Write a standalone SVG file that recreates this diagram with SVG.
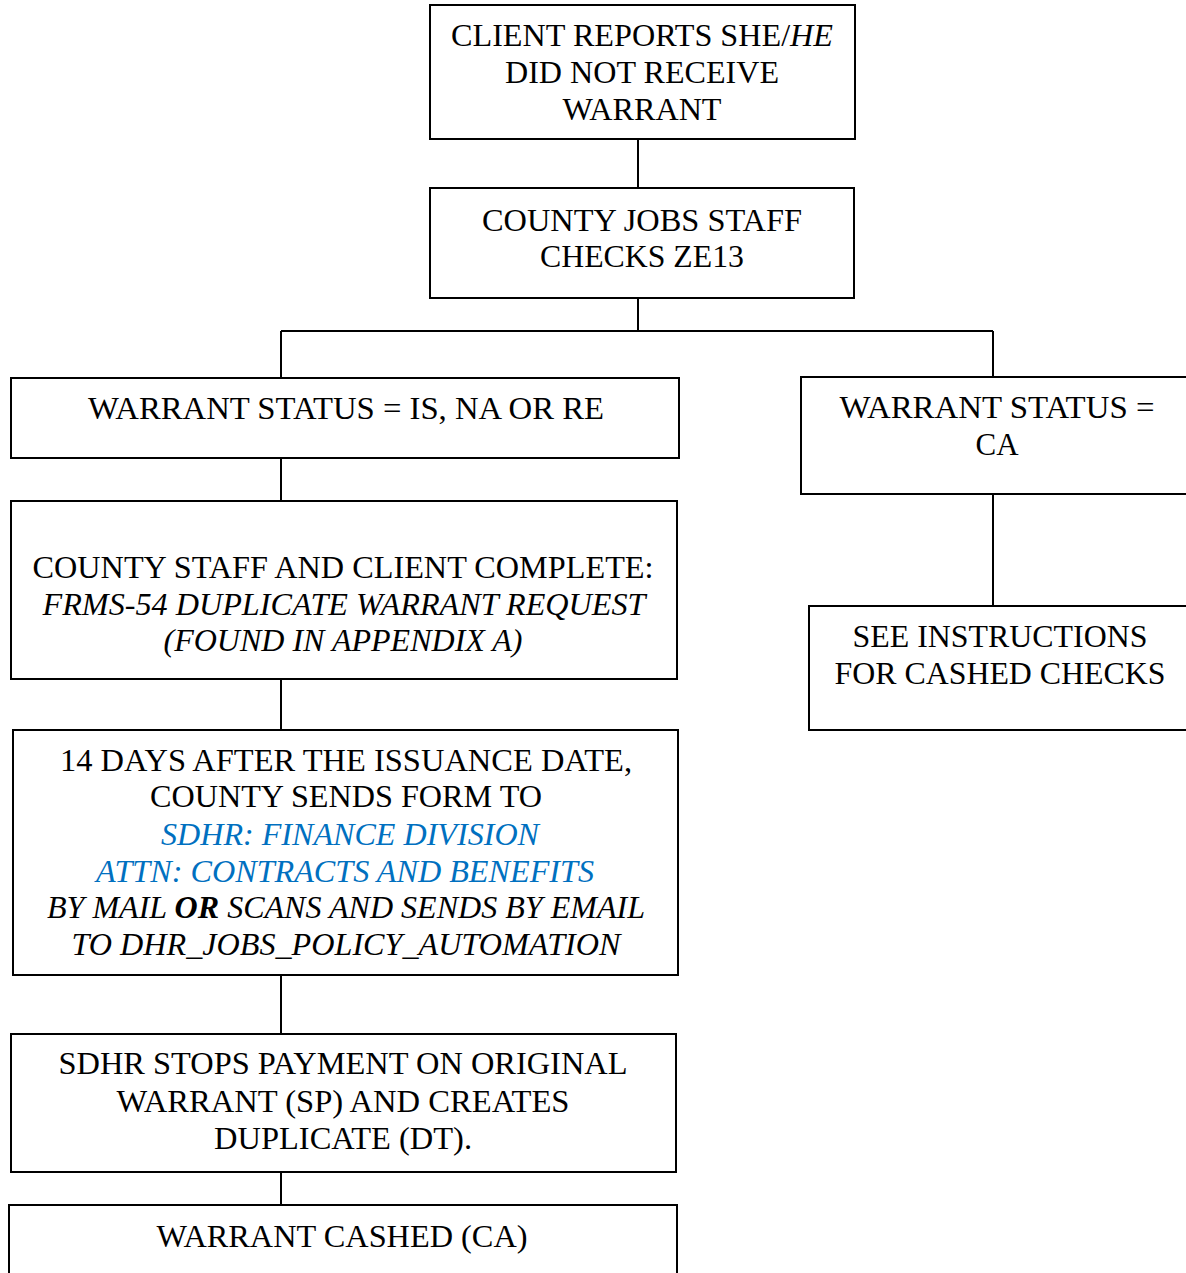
<svg xmlns="http://www.w3.org/2000/svg" width="1186" height="1273" viewBox="0 0 1186 1273">
<style>
.box{fill:#fff;stroke:#000;stroke-width:2}
.ln{stroke:#000;stroke-width:2;fill:none}
</style>
<rect width="1186" height="1273" fill="#fff"/>
<g id="connectors">
<line class="ln" x1="638" y1="139" x2="638" y2="188"/>
<line class="ln" x1="638" y1="298" x2="638" y2="331"/>
<line class="ln" x1="281" y1="331" x2="993" y2="331"/>
<line class="ln" x1="281" y1="331" x2="281" y2="378"/>
<line class="ln" x1="993" y1="331" x2="993" y2="377"/>
<line class="ln" x1="993" y1="494" x2="993" y2="606"/>
<line class="ln" x1="281" y1="458" x2="281" y2="501"/>
<line class="ln" x1="281" y1="679" x2="281" y2="730"/>
<line class="ln" x1="281" y1="975" x2="281" y2="1034"/>
<line class="ln" x1="281" y1="1172" x2="281" y2="1205"/>
</g>
<g id="nodes" font-family="Liberation Serif, serif" font-size="32" text-anchor="middle" fill="#000">
<g id="n1">
<rect class="box" x="430" y="5" width="425" height="134"/>
<text x="642" y="46" textLength="382" lengthAdjust="spacingAndGlyphs">CLIENT REPORTS SHE/<tspan font-style="italic">HE</tspan></text>
<text x="642" y="83" textLength="274" lengthAdjust="spacingAndGlyphs">DID NOT RECEIVE</text>
<text x="642" y="120" textLength="159" lengthAdjust="spacingAndGlyphs">WARRANT</text>
</g>
<g id="n2">
<rect class="box" x="430" y="188" width="424" height="110"/>
<text x="642" y="231" textLength="320" lengthAdjust="spacingAndGlyphs">COUNTY JOBS STAFF</text>
<text x="642" y="267" textLength="204" lengthAdjust="spacingAndGlyphs">CHECKS ZE13</text>
</g>
<g id="n3">
<rect class="box" x="11" y="378" width="668" height="80"/>
<text x="346" y="419" textLength="516" lengthAdjust="spacingAndGlyphs">WARRANT STATUS = IS, NA OR RE</text>
</g>
<g id="n4">
<rect class="box" x="801" y="377" width="390" height="117"/>
<text x="997" y="418" textLength="315" lengthAdjust="spacingAndGlyphs">WARRANT STATUS =</text>
<text x="997" y="455" textLength="43" lengthAdjust="spacingAndGlyphs">CA</text>
</g>
<g id="n5">
<rect class="box" x="809" y="606" width="382" height="124"/>
<text x="1000" y="647" textLength="295" lengthAdjust="spacingAndGlyphs">SEE INSTRUCTIONS</text>
<text x="1000" y="684" textLength="331" lengthAdjust="spacingAndGlyphs">FOR CASHED CHECKS</text>
</g>
<g id="n6">
<rect class="box" x="11" y="501" width="666" height="178"/>
<text x="343" y="578" textLength="621" lengthAdjust="spacingAndGlyphs">COUNTY STAFF AND CLIENT COMPLETE:</text>
<text x="344" y="615" font-style="italic" textLength="603" lengthAdjust="spacingAndGlyphs">FRMS-54 DUPLICATE WARRANT REQUEST</text>
<text x="343" y="651" font-style="italic" textLength="359" lengthAdjust="spacingAndGlyphs">(FOUND IN APPENDIX A)</text>
</g>
<g id="n7">
<rect class="box" x="13" y="730" width="665" height="245"/>
<text x="346" y="771" textLength="572" lengthAdjust="spacingAndGlyphs">14 DAYS AFTER THE ISSUANCE DATE,</text>
<text x="346" y="807" textLength="392" lengthAdjust="spacingAndGlyphs">COUNTY SENDS FORM TO</text>
<text x="350" y="845" font-style="italic" fill="#0070C0" textLength="378" lengthAdjust="spacingAndGlyphs">SDHR: FINANCE DIVISION</text>
<text x="345" y="882" font-style="italic" fill="#0070C0" textLength="498" lengthAdjust="spacingAndGlyphs">ATTN: CONTRACTS AND BENEFITS</text>
<text x="346" y="918" font-style="italic" textLength="598" lengthAdjust="spacingAndGlyphs">BY MAIL <tspan font-weight="bold">OR</tspan> SCANS AND SENDS BY EMAIL</text>
<text x="346" y="955" font-style="italic" textLength="549" lengthAdjust="spacingAndGlyphs">TO DHR_JOBS_POLICY_AUTOMATION</text>
</g>
<g id="n8">
<rect class="box" x="11" y="1034" width="665" height="138"/>
<text x="343" y="1074" textLength="569" lengthAdjust="spacingAndGlyphs">SDHR STOPS PAYMENT ON ORIGINAL</text>
<text x="343" y="1112" textLength="453" lengthAdjust="spacingAndGlyphs">WARRANT (SP) AND CREATES</text>
<text x="343" y="1149" textLength="258" lengthAdjust="spacingAndGlyphs">DUPLICATE (DT).</text>
</g>
<g id="n9">
<rect class="box" x="9" y="1205" width="668" height="80"/>
<text x="342" y="1247" textLength="371" lengthAdjust="spacingAndGlyphs">WARRANT CASHED (CA)</text>
</g>
</g>
</svg>
